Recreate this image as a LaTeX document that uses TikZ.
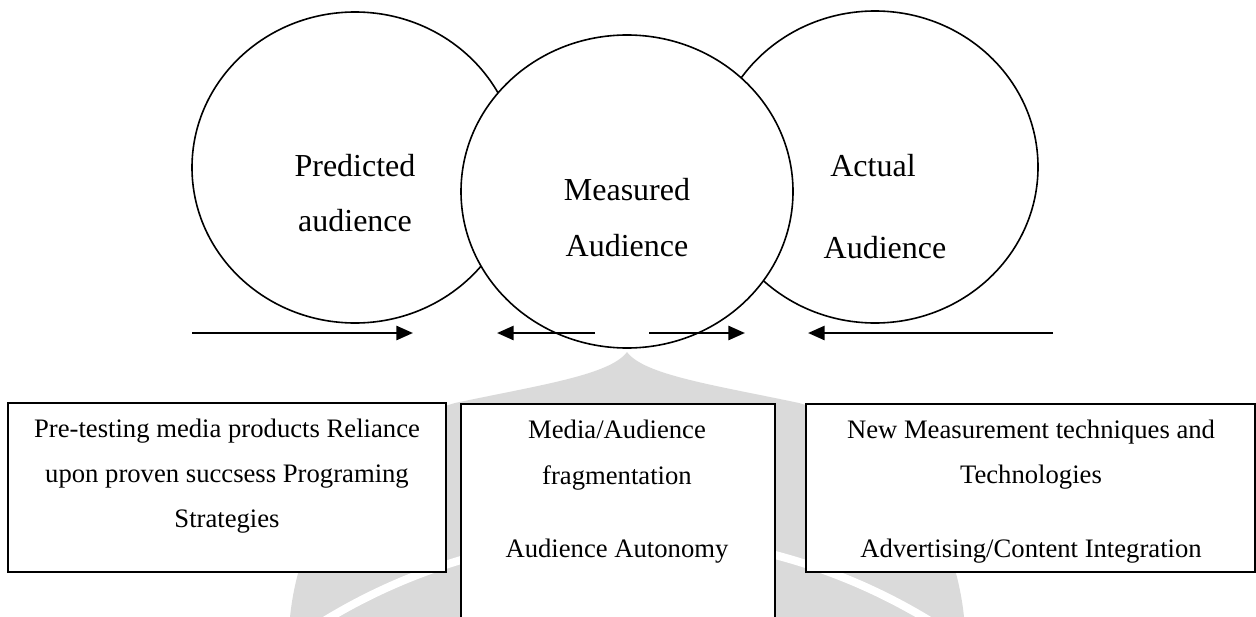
\documentclass[tikz,border=0pt]{standalone}
\usepackage{fontspec}
\setmainfont{Liberation Serif}
\usetikzlibrary{arrows.meta,shapes.geometric}
\definecolor{wmark}{RGB}{218,218,218}
\begin{document}
\begin{tikzpicture}[x=0.75pt,y=-0.75pt,
  bubble/.style={ellipse,draw=black,line width=1.2pt,fill=white,inner sep=0pt},
  panel/.style={rectangle,draw=black,line width=1.6pt,fill=white,inner sep=0pt},
  bubbletext/.style={anchor=base,inner sep=0pt,font=\fontsize{24}{28}\selectfont},
  paneltext/.style={anchor=base,inner sep=0pt,font=\fontsize{20}{24}\selectfont},
  flow/.style={line width=2pt,-{Triangle[length=12.5pt,width=10.5pt]}}]
\useasboundingbox (0,0) rectangle (1256,617);
\clip (0,0) rectangle (1256,617);

% faint emblem in the background
\fill[wmark] (627,352) .. controls (644,375) and (714,385) .. (799,403)
  .. controls (894,430) and (954,520) .. (964,617) -- (290,617)
  .. controls (300,520) and (360,430) .. (455,403)
  .. controls (540,385) and (610,375) .. (627,352) -- cycle;
\draw[white,line width=6pt] (627,1118) circle [radius=582];

% the three audiences
\node[bubble,minimum width=244.5pt,minimum height=233.25pt] (pred) at (355,167.5) {};
\node[bubble,minimum width=244.5pt,minimum height=234pt] (act) at (875,167) {};
\node[bubble,minimum width=249pt,minimum height=234.75pt] (meas) at (627,191.5) {};

\node[bubbletext] (predA) at (355,176) {Predicted};
\node[bubbletext] (predB) at (355,231) {audience};
\node[bubbletext] (measA) at (627,200) {Measured};
\node[bubbletext] (measB) at (627,256) {Audience};
\node[bubbletext] (actA) at (873,176) {Actual};
\node[bubbletext] (actB) at (885,258) {Audience};

% pressures on the audiences
\coordinate (a1s) at (192,333);  \coordinate (a1e) at (413,333);
\coordinate (a2s) at (595,333);  \coordinate (a2e) at (497,333);
\coordinate (a3s) at (649,333);  \coordinate (a3e) at (745,333);
\coordinate (a4s) at (1053,333); \coordinate (a4e) at (808,333);
\draw[flow] (a1s) -- (a1e);
\draw[flow] (a2s) -- (a2e);
\draw[flow] (a3s) -- (a3e);
\draw[flow] (a4s) -- (a4e);

% the forces behind each audience
\node[panel,minimum width=328.5pt,minimum height=126.75pt] (boxL) at (227,487.5) {};
\node[panel,minimum width=235.5pt,minimum height=192pt] (boxM) at (618,532) {};
\node[panel,minimum width=336.75pt,minimum height=126pt] (boxR) at (1030.5,488) {};

\node[paneltext] (l1) at (227,437) {Pre-testing media products Reliance};
\node[paneltext] (l2) at (227,482) {upon proven succsess Programing};
\node[paneltext] (l3) at (227,527) {Strategies};

\node[paneltext] (m1) at (617,438) {Media/Audience};
\node[paneltext] (m2) at (617,484) {fragmentation};
\node[paneltext] (m3) at (617,557) {Audience Autonomy};

\node[paneltext] (r1) at (1031,438) {New Measurement techniques and};
\node[paneltext] (r2) at (1031,483) {Technologies};
\node[paneltext] (r3) at (1031,557) {Advertising/Content Integration};
\end{tikzpicture}
\end{document}
